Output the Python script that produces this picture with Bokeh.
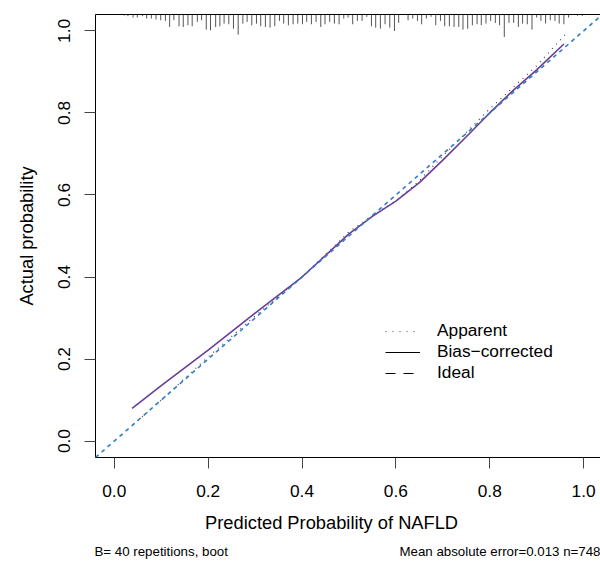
from bokeh.plotting import figure
from bokeh.models import (LinearAxis, FixedTicker, Slope, Legend, LegendItem,
                          Range1d, PrintfTickFormatter)
from bokeh.embed import file_html
from bokeh.resources import INLINE

FONT = "Liberation Sans"

# Calibration curves
app_x = [0.04, 0.10, 0.20, 0.30, 0.40, 0.50, 0.55, 0.60, 0.65, 0.70, 0.80, 0.90, 0.96]
app_y = [0.04, 0.10, 0.205, 0.305, 0.40, 0.51, 0.55, 0.585, 0.635, 0.695, 0.81, 0.915, 0.99]
bc_x = [0.038, 0.10, 0.20, 0.30, 0.40, 0.50, 0.55, 0.60, 0.65, 0.70, 0.75, 0.80, 0.85, 0.90, 0.958]
bc_y = [0.080, 0.135, 0.222, 0.312, 0.400, 0.505, 0.548, 0.585, 0.630, 0.685, 0.742, 0.800, 0.855, 0.905, 0.968]

# Rug (distribution of predicted probabilities, relative frequency)
rug_x = [0.021, 0.029, 0.040, 0.049, 0.060, 0.069, 0.079, 0.089, 0.099, 0.109,
         0.118, 0.127, 0.138, 0.147, 0.157, 0.166, 0.177, 0.186, 0.196, 0.205,
         0.216, 0.225, 0.234, 0.244, 0.254, 0.264, 0.274, 0.283, 0.293, 0.303,
         0.312, 0.322, 0.332, 0.342, 0.352, 0.361, 0.371, 0.381, 0.391, 0.401,
         0.410, 0.420, 0.430, 0.440, 0.449, 0.459, 0.469, 0.479, 0.489, 0.498,
         0.508, 0.518, 0.528, 0.538, 0.548, 0.557, 0.567, 0.577, 0.587, 0.597,
         0.606, 0.626, 0.636, 0.646, 0.655, 0.665, 0.675, 0.685, 0.695, 0.704,
         0.714, 0.724, 0.734, 0.743, 0.753, 0.763, 0.773, 0.782, 0.792, 0.802,
         0.812, 0.821, 0.831, 0.841, 0.851, 0.861, 0.870, 0.880, 0.890, 0.900,
         0.909, 0.919, 0.929, 0.939, 0.948, 0.958, 0.968, 0.987, 0.997]
rug_freq = [3, 5, 9, 9, 5, 12, 12, 15, 17, 19,
            37, 17, 35, 37, 32, 35, 22, 17, 45, 47,
            37, 35, 27, 29, 42, 60, 27, 22, 32, 27,
            35, 37, 39, 35, 19, 27, 32, 29, 27, 29,
            22, 29, 22, 37, 29, 22, 27, 29, 12, 9,
            29, 19, 19, 7, 35, 39, 42, 29, 39, 49,
            25, 17, 12, 19, 29, 12, 7, 32, 19, 35,
            35, 37, 37, 45, 42, 32, 29, 32, 27, 19,
            25, 32, 67, 25, 25, 37, 27, 29, 45, 9,
            19, 27, 17, 19, 27, 29, 9, 4, 4]

x_ticks = [0.0, 0.2, 0.4, 0.6, 0.8, 1.0]
y_ticks = [0.0, 0.2, 0.4, 0.6, 0.8, 1.0]

x_title = "Predicted Probability of NAFLD"
y_title = "Actual probability"
legend_labels = ["Apparent", "Bias\u2212corrected", "Ideal"]
sub_left = "B= 40 repetitions, boot"
sub_right = "Mean absolute error=0.013 n=748"
x_title_pos = 0.463          # centre of the x title (x data units)
sub_pos = [0.1, 0.823]       # centres of the two footnote texts (x data units)

Y0, Y1 = -0.04, 1.04
X0, X1 = -0.04, 1.036

p = figure(width=600, height=562, output_backend="svg", toolbar_location=None,
           x_range=Range1d(X0, X1), y_range=Range1d(Y0, Y1),
           min_border_left=95, min_border_right=0, min_border_top=14,
           min_border_bottom=105)
p.outline_line_color = None
p.xgrid.visible = False
p.ygrid.visible = False
p.background_fill_color = "white"
p.border_fill_color = "white"

for ax, ticks in ((p.xaxis[0], x_ticks), (p.yaxis[0], y_ticks)):
    ax.ticker = FixedTicker(ticks=ticks)
    ax.formatter = PrintfTickFormatter(format="%.1f")
    ax.minor_tick_line_color = None
    ax.major_tick_in = 0
    ax.major_tick_out = 11
    ax.major_tick_line_color = "#444444"
    ax.axis_line_color = "black"
    ax.major_label_text_font = FONT
    ax.major_label_text_font_size = "17.3px"
    ax.major_label_text_color = "black"
    ax.axis_label_text_font = FONT
    ax.axis_label_text_font_size = "18.3px"
    ax.axis_label_text_font_style = "normal"
    ax.axis_label_text_color = "black"

p.xaxis[0].major_label_standoff = 16
p.yaxis[0].axis_label = y_title
p.yaxis[0].major_label_orientation = "vertical"
p.yaxis[0].major_label_standoff = 14
p.yaxis[0].axis_label_standoff = 19

top = LinearAxis(ticker=FixedTicker(ticks=[]), axis_line_color="black",
                 major_tick_line_color=None, minor_tick_line_color=None,
                 major_label_text_font_size="0px", major_label_standoff=0)
p.add_layout(top, "above")

# x title (placed as in the reference, slightly left of centre)
xt = LinearAxis(ticker=FixedTicker(ticks=[x_title_pos]),
                major_label_overrides={x_title_pos: x_title},
                axis_line_color=None, major_tick_line_color=None,
                minor_tick_line_color=None, major_tick_in=0, major_tick_out=0,
                major_label_text_font=FONT, major_label_text_font_size="18.3px",
                major_label_text_color="black", major_label_standoff=12)
p.add_layout(xt, "below")

# Footnote line below the x title
sub = LinearAxis(ticker=FixedTicker(ticks=sub_pos),
                 major_label_overrides={sub_pos[0]: sub_left, sub_pos[1]: sub_right},
                 axis_line_color=None, major_tick_line_color=None,
                 minor_tick_line_color=None, major_tick_in=0, major_tick_out=0,
                 major_label_text_font=FONT, major_label_text_font_size="13.3px",
                 major_label_text_color="black", major_label_standoff=8)
p.add_layout(sub, "below")

# Rug along the top
max_f = max(rug_freq)
rug_y1 = [Y1 - 0.055 * f / max_f for f in rug_freq]
p.segment(x0=rug_x, y0=[Y1] * len(rug_x), x1=rug_x, y1=rug_y1,
          line_color="#555555", line_width=1)

# Ideal
p.add_layout(Slope(gradient=1, y_intercept=0, line_color="#2E7FC2",
                   line_dash="4 4", line_width=1.6))
# Apparent
p.line(app_x, app_y, line_color="#444444", line_dash="1 5", line_width=1.2)
# Bias-corrected
p.line(bc_x, bc_y, line_color="#6A3D9A", line_width=1.6)

# Legend (black symbols); dummy renderers lie outside the visible ranges
r_app = p.line(x=[-9, -8], y=[-9, -8], line_color="#555555", line_dash="1 6", line_width=1.2)
r_bc = p.line(x=[-9, -8], y=[-9, -8], line_color="black", line_width=1.2)
r_id = p.line(x=[-9, -8], y=[-9, -8], line_color="black", line_dash="10 8", line_width=1.2)
legend = Legend(items=[LegendItem(label=legend_labels[0], renderers=[r_app]),
                       LegendItem(label=legend_labels[1], renderers=[r_bc]),
                       LegendItem(label=legend_labels[2], renderers=[r_id])],
                location=(290, 74), padding=0, margin=0, spacing=0,
                glyph_width=35, glyph_height=20, label_height=20,
                label_standoff=17, border_line_color=None,
                background_fill_alpha=0, label_text_font=FONT,
                label_text_font_size="17.3px", label_text_color="black")
p.add_layout(legend)

open("out.html", "w").write(file_html(p, INLINE))
